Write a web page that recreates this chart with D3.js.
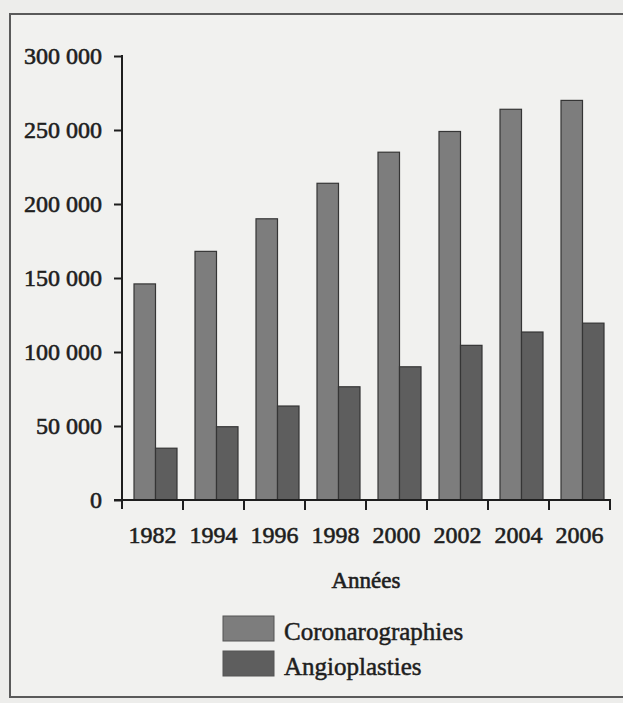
<!DOCTYPE html>
<html lang="fr">
<head>
<meta charset="utf-8">
<script src="https://cdn.jsdelivr.net/npm/d3@7"></script>
<style>
  html, body { margin: 0; padding: 0; background: #ededeb; }
  svg { display: block; }
  text { font-family: "Liberation Serif", "DejaVu Serif", serif; fill: #1e1e1e; }
</style>
</head>
<body>
<svg id="chart" width="623" height="703"></svg>
<script>
// Nombre d'actes par année
const years = ["1982", "1994", "1996", "1998", "2000", "2002", "2004", "2006"];
const coronarographies = [146000, 168000, 190000, 214000, 235000, 249000, 264000, 270000];
const angioplasties = [35000, 49500, 63500, 76500, 90000, 104500, 113500, 119500];
const seriesNames = ["Coronarographies", "Angioplasties"];
const yTicks = [0, 50000, 100000, 150000, 200000, 250000, 300000];
const xTitle = "Années";

const colors = { Coronarographies: "#7d7d7d", Angioplasties: "#5e5e5e" };
const serif = "'Liberation Serif', 'DejaVu Serif', serif";
const ink = "#1e1e1e";

const svg = d3.select("#chart");
const W = 623, H = 703;

// page background and frame
svg.append("rect").attr("width", W).attr("height", H).attr("fill", "#ededeb");
svg.append("rect").attr("x", 10).attr("y", 14).attr("width", 620).attr("height", 683)
  .attr("fill", "#f1f1ef").attr("stroke", "#5a5a5a").attr("stroke-width", 2);

const plot = { left: 122, right: 610, top: 56, bottom: 500 };

const x0 = d3.scaleBand().domain(years).range([plot.left, plot.right]).padding(0);
const x1 = d3.scaleBand().domain(seriesNames).range([12, 55]).padding(0);
const y = d3.scaleLinear().domain([0, 300000]).range([plot.bottom, plot.top]);

const data = years.map((yr, i) => ({
  year: yr,
  values: [
    { key: "Coronarographies", value: coronarographies[i] },
    { key: "Angioplasties", value: angioplasties[i] }
  ]
}));

// bars
const groups = svg.append("g").selectAll("g").data(data).join("g")
  .attr("transform", d => `translate(${x0(d.year)},0)`);
groups.selectAll("rect").data(d => d.values).join("rect")
  .attr("x", d => x1(d.key))
  .attr("y", d => y(d.value))
  .attr("width", x1.bandwidth())
  .attr("height", d => y(0) - y(d.value))
  .attr("fill", d => colors[d.key])
  .attr("stroke", "#353535")
  .attr("stroke-width", 1.2);

// y axis
const yAxis = d3.axisLeft(y).tickValues(yTicks)
  .tickFormat(v => d3.format(",")(v).replace(/,/g, " "))
  .tickSize(8).tickPadding(12);
const gy = svg.append("g").attr("transform", `translate(${plot.left},0)`).call(yAxis)
  .attr("font-family", serif);
gy.select(".domain").remove();
gy.selectAll(".tick line").attr("stroke", ink).attr("stroke-width", 2);
gy.selectAll(".tick text").attr("font-size", 24).attr("fill", ink)
  .attr("stroke", ink).attr("stroke-width", 0.6);
svg.append("line")
  .attr("x1", plot.left).attr("x2", plot.left)
  .attr("y1", y(300000) - 1).attr("y2", plot.bottom + 9)
  .attr("stroke", ink).attr("stroke-width", 2);

// x axis line and band boundary ticks
svg.append("line")
  .attr("x1", plot.left - 8).attr("x2", plot.right + 1)
  .attr("y1", plot.bottom).attr("y2", plot.bottom)
  .attr("stroke", ink).attr("stroke-width", 2);
const edges = years.map(yr => x0(yr)).concat([x0.range()[1]]);
svg.append("g").selectAll("line").data(edges.slice(1)).join("line")
  .attr("x1", d => d).attr("x2", d => d)
  .attr("y1", plot.bottom).attr("y2", plot.bottom + 10)
  .attr("stroke", ink).attr("stroke-width", 2);

// year labels
const xAxis = d3.axisBottom(x0).tickSize(0).tickPadding(0);
const gx = svg.append("g").attr("transform", `translate(0,${plot.bottom})`).call(xAxis)
  .attr("font-family", serif);
gx.select(".domain").remove();
gx.selectAll(".tick text").attr("font-size", 24).attr("dy", null).attr("y", 43)
  .attr("fill", ink).attr("stroke", ink).attr("stroke-width", 0.6);

// axis title
svg.append("text").attr("x", 366).attr("y", 588).attr("text-anchor", "middle")
  .attr("font-family", serif)
  .attr("font-size", 23).attr("stroke", ink).attr("stroke-width", 0.6)
  .text(xTitle);

// legend
const legend = svg.append("g").selectAll("g").data(seriesNames).join("g")
  .attr("transform", (d, i) => `translate(223,${616 + i * 35})`);
legend.append("rect").attr("width", 51).attr("height", 25)
  .attr("fill", d => colors[d]).attr("stroke", "#555").attr("stroke-width", 1);
legend.append("text").attr("x", 61).attr("y", 24).attr("font-size", 25)
  .attr("font-family", serif)
  .attr("stroke", ink).attr("stroke-width", 0.5)
  .text(d => d);
</script>
</body>
</html>
